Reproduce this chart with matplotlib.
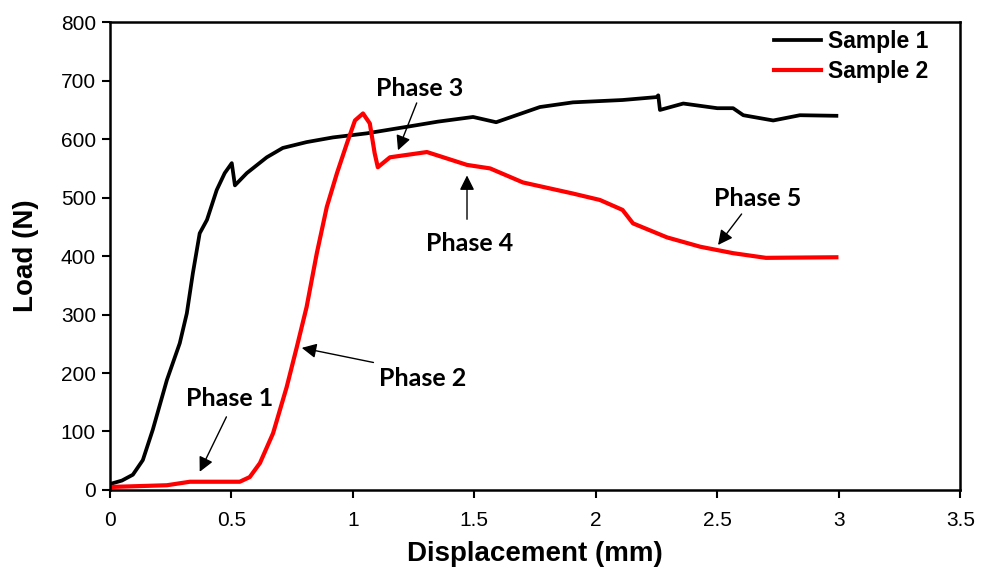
import matplotlib.pyplot as plt
import numpy as np

# Sample 1 (black)
s1_x = [0.0, 0.05, 0.095, 0.136, 0.177, 0.235, 0.288, 0.317, 0.342, 0.37, 0.40, 0.44,
        0.473, 0.502, 0.515, 0.564, 0.646, 0.712, 0.81, 0.918, 1.058, 1.19, 1.22,
        1.35, 1.495, 1.59, 1.77, 1.906, 2.11, 2.25, 2.257, 2.264, 2.36, 2.50, 2.565,
        2.607, 2.73, 2.84, 2.99]
s1_y = [10, 16, 26, 51, 103, 188, 251, 302, 371, 439, 462, 513,
        542, 559, 521, 542, 569, 585, 595, 603, 610, 619, 621,
        630, 638, 629, 655, 663, 667, 672, 675, 650, 661, 653, 653,
        641, 632, 641, 640]

# Sample 2 (red)
s2_x = [0.0, 0.235, 0.33, 0.535, 0.576, 0.618, 0.672, 0.728, 0.77, 0.81, 0.852, 0.893,
        0.935, 0.976, 1.009, 1.042, 1.07, 1.09, 1.103, 1.153, 1.305, 1.47, 1.565,
        1.70, 1.906, 2.017, 2.11, 2.153, 2.293, 2.43, 2.565, 2.70, 2.99]
s2_y = [5, 8, 14, 14, 22, 46, 97, 176, 245, 313, 405, 484,
        542, 593, 632, 644, 627, 576, 552, 569, 578, 556, 550,
        526, 507, 496, 479, 456, 432, 416, 405, 397, 398]

phase_labels = ['Phase 1', 'Phase 2', 'Phase 3', 'Phase 4', 'Phase 5']
phase_text = [(0.494, 156), (1.289, 191), (1.276, 687), (1.482, 422), (2.668, 499)]
phase_tail = [(0.48, 125), (1.085, 218), (1.263, 662), (1.47, 463), (2.6, 472)]
phase_tip = [(0.37, 31), (0.79, 243), (1.186, 581), (1.47, 538), (2.503, 419)]

fig = plt.figure(figsize=(9.89, 5.71), dpi=100)
ax = fig.add_axes([0.111, 0.142, 0.86, 0.819])

ax.plot(s1_x, s1_y, color='black', lw=2.7, label='Sample 1')
ax.plot(s2_x, s2_y, color='#ff0000', lw=3.0, label='Sample 2')

for lab, t, tl, tp in zip(phase_labels, phase_text, phase_tail, phase_tip):
    ax.text(t[0], t[1], lab, ha='center', va='center', fontsize=18,
            fontweight='bold', family='Lato')
    ax.annotate('', xy=tp, xytext=tl,
                arrowprops=dict(arrowstyle='-|>', color='black', lw=1,
                                mutation_scale=22, shrinkA=0, shrinkB=0))

ax.set_xlim(0, 3.5)
ax.set_ylim(0, 800)
ax.set_xticks(np.arange(0, 3.51, 0.5))
ax.set_xticklabels(['0', '0.5', '1', '1.5', '2', '2.5', '3', '3.5'])
ax.set_yticks(np.arange(0, 801, 100))
ax.tick_params(labelsize=15, width=1.5, length=6, direction='out')
ax.tick_params(axis='x', pad=9)
ax.tick_params(axis='y', pad=4)
for lbl in ax.get_xticklabels() + ax.get_yticklabels():
    lbl.set_family('Liberation Sans')
for sp in ax.spines.values():
    sp.set_linewidth(1.8)

ax.set_xlabel('Displacement (mm)', fontsize=20, fontweight='bold',
              family='Liberation Sans', labelpad=8)
ax.set_ylabel('Load (N)', fontsize=20, fontweight='bold',
              family='Liberation Sans', labelpad=16)

leg = ax.legend(loc='upper right', bbox_to_anchor=(0.962, 0.983), frameon=False,
                handlelength=2.05,
                prop={'family': 'Liberation Sans', 'weight': 'bold', 'size': 16.5},
                borderaxespad=0, borderpad=0, labelspacing=0.3, handletextpad=0.28)

fig.savefig('out.png', dpi=100)
